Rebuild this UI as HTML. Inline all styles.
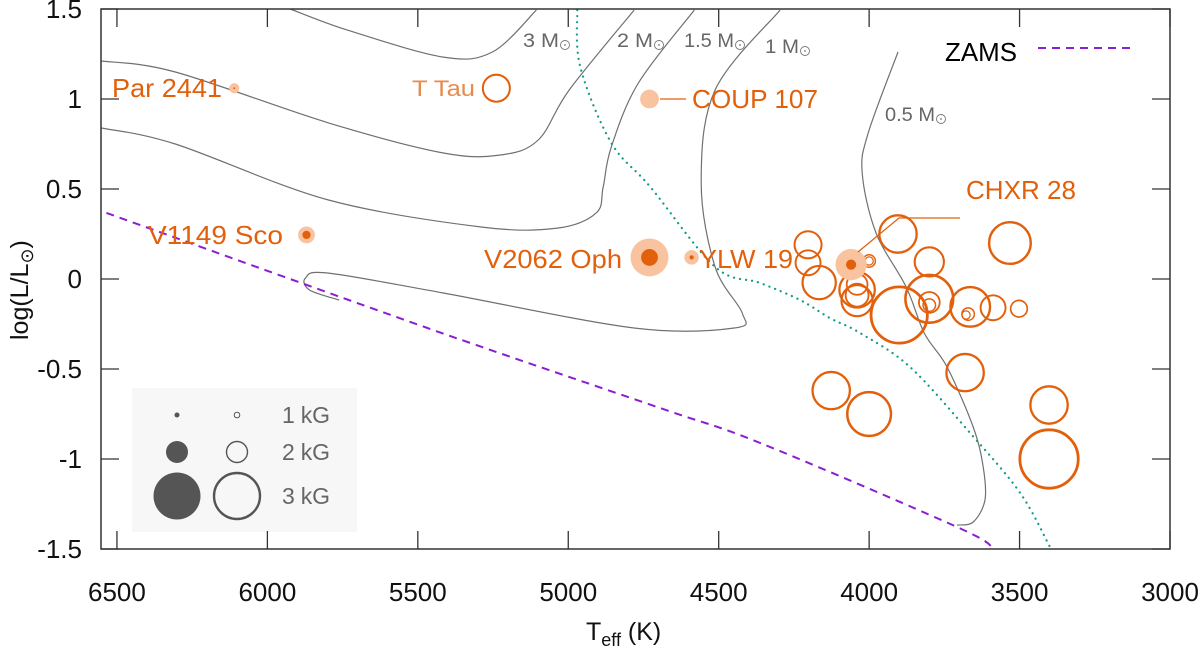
<!DOCTYPE html>
<html><head><meta charset="utf-8"><style>
html,body{margin:0;padding:0;background:#fff;}
svg{display:block;font-family:"Liberation Sans",sans-serif;}
</style></head><body>
<svg id="c" width="1200" height="649" viewBox="0 0 1200 649"></svg>
<script>
// ---- data ----
const xTicks=[6500,6000,5500,5000,4500,4000,3500,3000];
const yTicks=[1.5,1,0.5,0,-0.5,-1,-1.5];
const yTickLabels=["1.5","1","0.5","0","-0.5","-1","-1.5"];
// open circles: Teff, logL, field (kG)
const openT=[4203,4203,4166,4040,4040,4040,4040,4000,4000,3904,3900,3800,3800,3800,3800,3664,3671,3678,3588,3502,3532,3681,4126,4000,3402,3402,5239];
const openL=[0.19,0.09,-0.02,-0.06,-0.12,-0.09,-0.03,0.1,0.1,0.25,-0.2,0.095,-0.11,-0.13,-0.145,-0.155,-0.195,-0.2,-0.16,-0.165,0.2,-0.52,-0.62,-0.75,-0.7,-1.0,1.06];
const openB=[2.28,2.19,2.53,2.61,2.45,2.1,2.0,1.55,1.26,2.68,3.29,2.37,3.03,2.0,1.55,2.76,1.55,1.26,2.19,1.79,2.83,2.68,2.68,2.9,2.68,3.35,2.28];
// labelled stars: outer (total) field and inner field
const starNames=["Par 2441","V1149 Sco","COUP 107","V2062 Oph","YLW 19","CHXR 28"];
const starT=[6110,5870,4730,4730,4590,4060];
const starL=[1.06,0.245,1.0,0.12,0.12,0.08];
const starBout=[1.4,1.8,1.9,2.7,1.67,2.45];
const starBin=[0.6,1.26,0,1.8,0.9,1.4];
// tracks
const trk3T=[5924,5734,5415,5252,5106], trk3L=[1.5,1.383,1.233,1.261,1.494];
const trk2T=[6551,6306,5797,5415,5226,5100,4997,4781], trk2L=[1.211,1.15,0.867,0.7,0.689,0.772,1.05,1.494];
const trk15T=[6551,6306,5797,5289,5036,4907,4884,4857,4767,4581], trk15L=[0.839,0.75,0.439,0.289,0.283,0.367,0.511,0.733,1.089,1.494];
const trk1T=[4296,4512,4558,4512,4422,4448,4781,5415,5797,5873,5860,5761], trk1L=[1.494,1.05,0.533,0.067,-0.189,-0.272,-0.272,-0.078,0.033,0.006,-0.061,-0.117];
const trk05T=[3904,4003,4023,3977,3877,3817,3741,3654,3621,3615,3654,3708], trk05L=[1.261,0.811,0.589,0.256,-0.044,-0.3,-0.489,-0.822,-1.044,-1.228,-1.35,-1.367];
const birthT=[4970,4960,4857,4727,4512,4362,4229,4130,4030,3864,3664,3498,3399], birthL=[1.494,1.178,0.756,0.511,0.067,-0.022,-0.117,-0.217,-0.3,-0.489,-0.856,-1.189,-1.489];
const zamsT=[6535,5468,4694,4362,3708,3588], zamsL=[0.367,-0.272,-0.717,-0.911,-1.378,-1.494];

// ---- axes ----
const X0=101,X1=1170,Y0=9,Y1=549;
const Tmin=3000,Tmax=6553, Lmin=-1.5,Lmax=1.5;
const xs=t=>X1-(t-Tmin)/(Tmax-Tmin)*(X1-X0);
const ys=l=>Y1-(l-Lmin)/(Lmax-Lmin)*(Y1-Y0);
const rB=b=>2.6*b*b;
const OR="#e2600c", LT="#f9c3a0";
const svg=document.getElementById('c');
const NS="http://www.w3.org/2000/svg";
function mk(tag,attrs,parent){const e=document.createElementNS(NS,tag);for(const k in attrs)e.setAttribute(k,attrs[k]);(parent||svg).appendChild(e);return e;}
function txt(x,y,s,attrs,parent){const e=mk('text',Object.assign({x:x,y:y},attrs||{}),parent);e.textContent=s;return e;}
function smooth(T,L){const p=T.map((t,i)=>[xs(t),ys(L[i])]);let d='M'+p[0][0]+' '+p[0][1];
 for(let i=0;i<p.length-1;i++){const a=p[i-1]||p[i],b=p[i],c=p[i+1],e=p[i+2]||c;
 d+=' C'+(b[0]+(c[0]-a[0])/6).toFixed(1)+' '+(b[1]+(c[1]-a[1])/6).toFixed(1)+' '+(c[0]-(e[0]-b[0])/6).toFixed(1)+' '+(c[1]-(e[1]-b[1])/6).toFixed(1)+' '+c[0].toFixed(1)+' '+c[1].toFixed(1);}return d;}

const clip=mk('clipPath',{id:'pc'});mk('rect',{x:X0,y:Y0,width:X1-X0,height:Y1-Y0},clip);
const g=mk('g',{'clip-path':'url(#pc)'});

// legend box
const lg=mk('g',{});


mk('rect',{x:132,y:388,width:225,height:144,fill:'#f7f7f7'},lg);
const legB=[1,2,3], legY=[415,452,496];
legB.forEach((b,i)=>{
 const r=[2.5,11,23.5][i];
 const f=mk('circle',{cx:177,cy:legY[i],r:r,fill:'#555'},lg);
 
 
 const o=mk('circle',{cx:237,cy:legY[i],r:[2.8,10.5,23][i],fill:'none',stroke:'#555','stroke-width':[1,1.4,2.4][i]},lg);
 
 
 const t=txt(282,legY[i]+8,b+' kG',{fill:'#666','font-size':23,textLength:48},lg);
 
 
});

// tracks
[[trk3T,trk3L,'track-3msun'],[trk2T,trk2L,'track-2msun'],[trk15T,trk15L,'track-1p5msun'],[trk1T,trk1L,'track-1msun'],[trk05T,trk05L,'track-0p5msun']].forEach(a=>{
 const p=mk('path',{d:smooth(a[0],a[1]),fill:'none',stroke:'#707070','stroke-width':1.2},g);
 
 
});
const bl=mk('path',{d:smooth(birthT,birthL),fill:'none',stroke:'#139a86','stroke-width':2.2,'stroke-dasharray':'0.1 6','stroke-linecap':'round'},g);


const zl=mk('path',{d:smooth(zamsT,zamsL),fill:'none',stroke:'#8a1ed0','stroke-width':2,'stroke-dasharray':'8 6'},g);



// open circles
openT.forEach((t,i)=>{
 const b=openB[i];
 const c=mk('circle',{cx:xs(t),cy:ys(openL[i]),r:rB(b),fill:'none',stroke:OR,'stroke-width':(0.3+0.75*b).toFixed(2)},g);
 
 
});
// labelled stars
starT.forEach((t,i)=>{
 const o=mk('circle',{cx:xs(t),cy:ys(starL[i]),r:rB(starBout[i]),fill:LT},g);
 
 
 if(starBin[i]>0){const n=mk('circle',{cx:xs(t),cy:ys(starL[i]),r:rB(starBin[i]),fill:OR},g);
 
 }
});
// leader lines
mk('path',{d:'M660 99 L686 99',stroke:OR,'stroke-width':1.3,fill:'none'});
mk('path',{d:'M858 252 L899 218 L960 218',stroke:OR,'stroke-width':1.3,fill:'none'});

// star labels [text,x,baseline,width]
const lab=[["Par 2441",112,97,110],["V1149 Sco",148,244,135],["COUP 107",692,108,126],["V2062 Oph",484,268,138],["YLW 19",699,268,94],["CHXR 28",966,199,110]];
lab.forEach(l=>{const t=txt(l[1],l[2],l[0],{fill:OR,'font-size':26,textLength:l[3],lengthAdjust:'spacingAndGlyphs'});
 
 });
const tt=txt(412,96,'T Tau',{fill:'#e88a4c','font-size':22,textLength:63,lengthAdjust:'spacingAndGlyphs'});



// mass labels [text,x,baseline,width]
function sun(x,y,r){mk('circle',{cx:x,cy:y,r:r,fill:'none',stroke:'#777','stroke-width':0.9});mk('circle',{cx:x,cy:y,r:0.9,fill:'#777'});}
[["3 M",523,47,36],["2 M",617,47,36],["1.5 M",684,47,50],["1 M",765,53,34],["0.5 M",885,121,50]].forEach(m=>{
 const t=txt(m[1],m[2],m[0],{fill:'#666','font-size':19,textLength:m[3],lengthAdjust:'spacingAndGlyphs'});
 
 
 sun(m[1]+m[3]+6,m[2]-2,4.5);
});

// ZAMS legend
const zt=txt(945,61,'ZAMS',{fill:'#000','font-size':26,textLength:72,lengthAdjust:'spacingAndGlyphs'});


mk('line',{x1:1038,y1:48,x2:1133,y2:48,stroke:'#8a1ed0','stroke-width':2,'stroke-dasharray':'8 6'});

// frame and ticks
const fr=mk('rect',{x:X0,y:Y0,width:X1-X0,height:Y1-Y0,fill:'none',stroke:'#333','stroke-width':1.5});


xTicks.forEach(t=>{const x=xs(t);
 mk('line',{x1:x,y1:Y1,x2:x,y2:Y1-18,stroke:'#333','stroke-width':1.3});
 mk('line',{x1:x,y1:Y0,x2:x,y2:Y0+18,stroke:'#333','stroke-width':1.3});
 const l=txt(x,601,String(t),{'text-anchor':'middle','font-size':26,fill:'#111'});
 
 
});
yTicks.forEach((v,i)=>{const y=ys(v);
 mk('line',{x1:X0,y1:y,x2:X0+18,y2:y,stroke:'#333','stroke-width':1.3});
 mk('line',{x1:X1,y1:y,x2:X1-18,y2:y,stroke:'#333','stroke-width':1.3});
 const l=txt(82,y+9,yTickLabels[i],{'text-anchor':'end','font-size':26,fill:'#111'});
 
 
});
// axis titles
const xt=mk('text',{x:586,y:640,'font-size':25,fill:'#111'});
xt.innerHTML='T<tspan font-size="18" dy="6">eff</tspan><tspan dy="-6">  (K)</tspan>';


const yt=mk('text',{x:0,y:0,'font-size':25,fill:'#111',transform:'translate(28,340) rotate(-90)'});
yt.innerHTML='log(L/L<tspan font-size="18" dy="5">⊙</tspan><tspan dy="-5">)</tspan>';


</script>
</body></html>
